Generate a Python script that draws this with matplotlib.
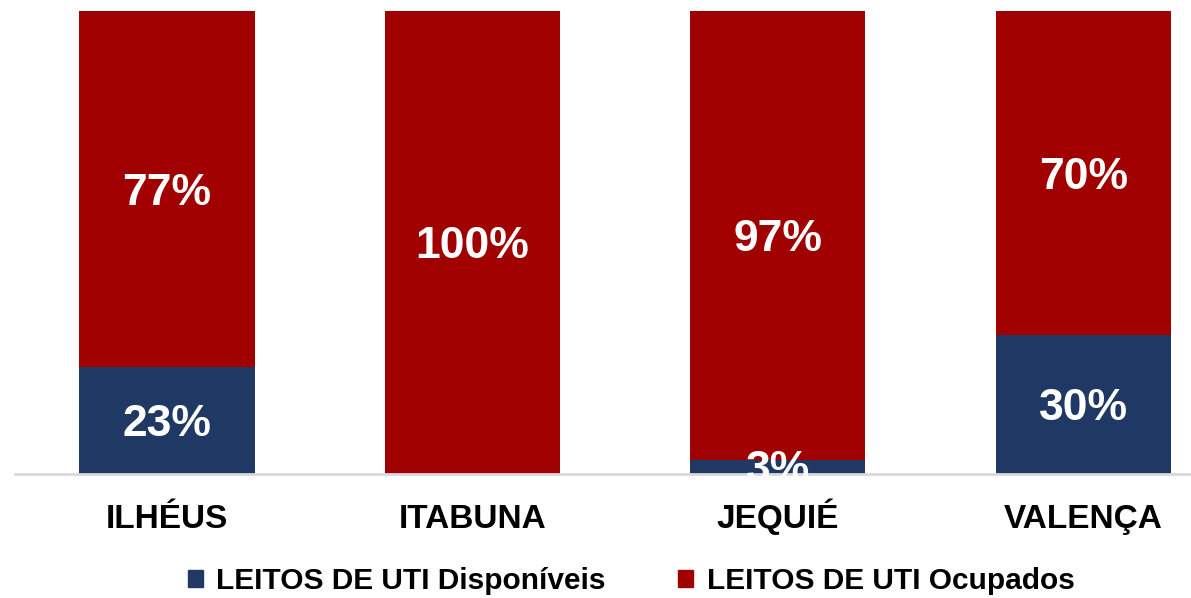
import matplotlib.pyplot as plt
import matplotlib.transforms as mtransforms
from matplotlib.patches import Patch

# data
cidades = ['ILHÉUS', 'ITABUNA', 'JEQUIÉ', 'VALENÇA']
disponiveis = [23, 0, 3, 30]
ocupados = [77, 100, 97, 70]
series = ['LEITOS DE UTI Disponíveis', 'LEITOS DE UTI Ocupados']

azul = '#203864'
vermelho = '#A00000'

plt.rcParams['font.family'] = ['Liberation Sans', 'DejaVu Sans']

fig = plt.figure(figsize=(11.91, 5.98), dpi=100)
ax = fig.add_axes([15/1191, 124.5/598, 1176/1191, 462.5/598])

x = list(range(len(cidades)))
width = 0.573
ax.bar(x, disponiveis, width, color=azul)
ax.bar(x, ocupados, width, bottom=disponiveis, color=vermelho)

# value labels centred on cap height (skip zero segments)
fs = 32
shift = -0.716 * fs / 2
for i in x:
    segs = [(disponiveis[i], disponiveis[i] / 2),
            (ocupados[i], disponiveis[i] + ocupados[i] / 2)]
    for val, ymid in segs:
        if val > 0:
            ax.annotate('{:d}%'.format(val), (i, ymid),
                        xytext=(0, shift), textcoords='offset points',
                        ha='center', va='baseline', color='white',
                        fontsize=fs, fontweight='bold')

ax.set_xlim(-0.4975, 3.352)
ax.set_ylim(0, 100)
ax.set_xticks([])
ax.set_yticks([])

# category labels on a common baseline
trans = mtransforms.blended_transform_factory(ax.transData, ax.transAxes)
for i, nome in enumerate(cidades):
    ax.text(i, -54.5/462.5, nome, transform=trans, ha='center',
            va='baseline', fontsize=24, fontweight='bold')

for side in ['top', 'right', 'left']:
    ax.spines[side].set_visible(False)
ax.spines['bottom'].set_color('#D9D9D9')
ax.spines['bottom'].set_linewidth(2)

# legend
handles = [Patch(color=azul), Patch(color=vermelho)]
leg = fig.legend(handles, series, loc='center', ncol=2,
                 bbox_to_anchor=(631/1191, 17/598), frameon=False,
                 fontsize=21.5, handlelength=0.52, handleheight=0.52,
                 handletextpad=0.45, columnspacing=2.4)
for t in leg.get_texts():
    t.set_fontweight('bold')

fig.savefig('out.png', dpi=100)
